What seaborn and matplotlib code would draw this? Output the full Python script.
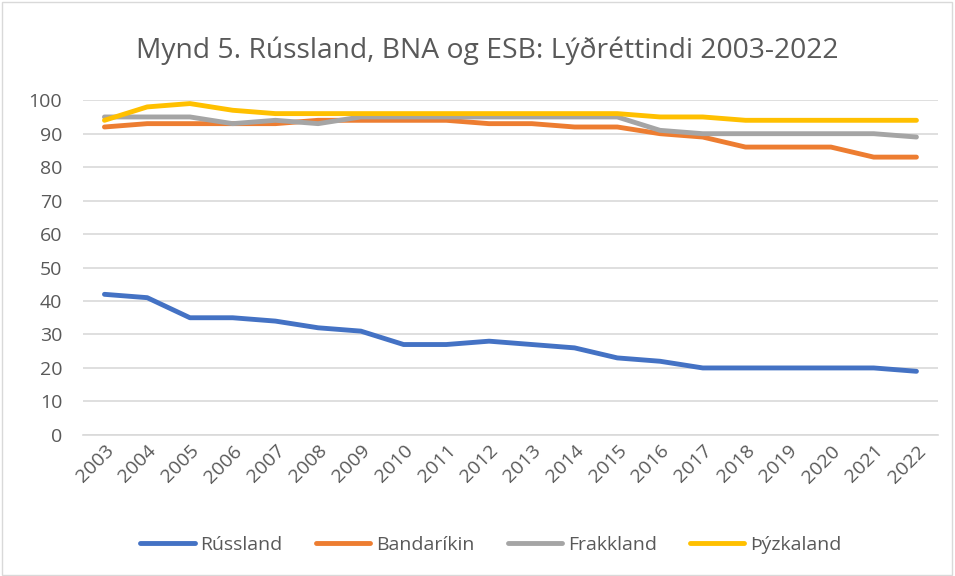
import pandas as pd
import matplotlib.pyplot as plt
import seaborn as sns
from matplotlib.patches import Rectangle

years = list(range(2003, 2023))
russland = [42, 41, 35, 35, 34, 32, 31, 27, 27, 28, 27, 26, 23, 22, 20, 20, 20, 20, 20, 19]
bandarikin = [92, 93, 93, 93, 93, 94, 94, 94, 94, 93, 93, 92, 92, 90, 89, 86, 86, 86, 83, 83]
frakkland = [95, 95, 95, 93, 94, 93, 95, 95, 95, 95, 95, 95, 95, 91, 90, 90, 90, 90, 90, 89]
thyzkaland = [94, 98, 99, 97, 96, 96, 96, 96, 96, 96, 96, 96, 96, 95, 95, 94, 94, 94, 94, 94]

series = {"Rússland": russland, "Bandaríkin": bandarikin,
          "Frakkland": frakkland, "Þýzkaland": thyzkaland}
colors = ["#4472C4", "#ED7D31", "#A5A5A5", "#FFC000"]

df = pd.DataFrame({"Ár": years, **series}).melt(id_vars="Ár", var_name="Land", value_name="Gildi")

sns.set_style("white")
plt.rcParams["font.family"] = ["Open Sans", "DejaVu Sans"]
txt = "#595959"

fig = plt.figure(figsize=(9.55, 5.76), dpi=100)
ax = fig.add_axes([0.087, 0.245, 0.895, 0.581])

sns.lineplot(data=df, x="Ár", y="Gildi", hue="Land", palette=colors,
             linewidth=3.5, ax=ax, solid_capstyle="round")

ax.set_xlim(2002.5, 2022.5)
ax.set_ylim(0, 100)
ax.set_yticks(range(0, 101, 10))
ax.set_xticks(years)
ax.set_xticklabels([str(y) for y in years], rotation=45, fontsize=14, color=txt,
                   ha="right", rotation_mode="anchor")
ax.tick_params(axis="y", labelsize=14, labelcolor=txt, length=0, pad=15)
ax.tick_params(axis="x", length=0, pad=5)
ax.yaxis.grid(True, color="#D9D9D9", linewidth=1.2)
ax.set_axisbelow(True)
for s in ["top", "right", "left"]:
    ax.spines[s].set_visible(False)
ax.spines["bottom"].set_color("#D9D9D9")
ax.spines["bottom"].set_linewidth(1.2)
ax.set_xlabel("")
ax.set_ylabel("")

handles, labels = ax.get_legend_handles_labels()
for h in handles:
    h.set_solid_capstyle("round")
ax.legend(handles, labels, loc="center", bbox_to_anchor=(0.514, 0.054), bbox_transform=fig.transFigure,
          ncol=4, frameon=False, fontsize=14, handlelength=2.8, handletextpad=0.3,
          columnspacing=1.7, labelcolor=txt)

fig.suptitle("Mynd 5. Rússland, BNA og ESB: Lýðréttindi 2003-2022", x=0.51, y=0.937, fontsize=20.3,
             color=txt)
fig.patches.append(Rectangle((0.002, 0.002), 0.995, 0.995, transform=fig.transFigure,
                             fill=False, edgecolor="#D9D9D9", linewidth=1))

fig.savefig("out.png", dpi=100)
